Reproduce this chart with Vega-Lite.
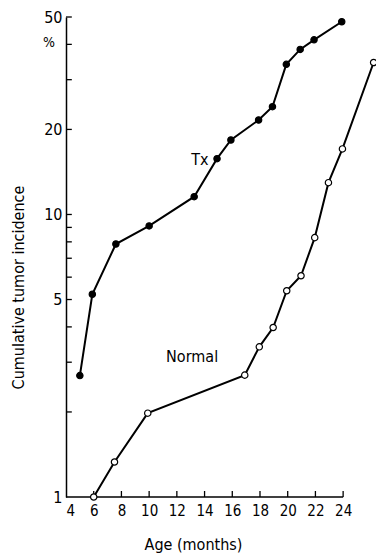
{
  "$schema": "https://vega.github.io/schema/vega-lite/v6.json",
  "width": 309,
  "height": 480,
  "autosize": {"type": "none"},
  "padding": {"left": 66, "top": 17, "right": 1, "bottom": 57},
  "background": "white",
  "config": {
    "view": {"stroke": null},
    "font": "DejaVu Sans Condensed",
    "axis": {"grid": false, "ticks": false, "labelOverlap": false, "domainColor": "black", "labelColor": "black", "titleColor": "black", "labelFont": "DejaVu Sans Condensed", "titleFont": "DejaVu Sans Condensed", "titleFontWeight": "normal", "domainWidth": 1.5}
  },
  "datasets": {
    "series": [
      {"age": 5.0, "pct": 2.69, "group": "Tx"},
      {"age": 5.9, "pct": 5.22, "group": "Tx"},
      {"age": 7.6, "pct": 7.86, "group": "Tx"},
      {"age": 10.0, "pct": 9.11, "group": "Tx"},
      {"age": 13.25, "pct": 11.56, "group": "Tx"},
      {"age": 14.9, "pct": 15.76, "group": "Tx"},
      {"age": 15.9, "pct": 18.35, "group": "Tx"},
      {"age": 17.9, "pct": 21.6, "group": "Tx"},
      {"age": 18.9, "pct": 24.07, "group": "Tx"},
      {"age": 19.9, "pct": 34.0, "group": "Tx"},
      {"age": 20.9, "pct": 38.4, "group": "Tx"},
      {"age": 21.9, "pct": 41.5, "group": "Tx"},
      {"age": 23.9, "pct": 48.1, "group": "Tx"},
      {"age": 6.0, "pct": 1.0, "group": "Normal"},
      {"age": 7.5, "pct": 1.33, "group": "Normal"},
      {"age": 9.9, "pct": 1.98, "group": "Normal"},
      {"age": 16.9, "pct": 2.7, "group": "Normal"},
      {"age": 17.95, "pct": 3.4, "group": "Normal"},
      {"age": 18.95, "pct": 3.98, "group": "Normal"},
      {"age": 19.93, "pct": 5.37, "group": "Normal"},
      {"age": 20.96, "pct": 6.07, "group": "Normal"},
      {"age": 21.95, "pct": 8.28, "group": "Normal"},
      {"age": 22.94, "pct": 12.96, "group": "Normal"},
      {"age": 23.95, "pct": 17.06, "group": "Normal"},
      {"age": 26.2, "pct": 34.5, "group": "Normal"}
    ],
    "labels": [
      {"age": 13.66, "pct": 15.6, "text": "Tx"},
      {"age": 13.1, "pct": 3.13, "text": "Normal"}
    ],
    "yticks": [
      {"age": 4, "pct": 2}, {"age": 4, "pct": 3}, {"age": 4, "pct": 4}, {"age": 4, "pct": 5}, {"age": 4, "pct": 6}, {"age": 4, "pct": 7}, {"age": 4, "pct": 8}, {"age": 4, "pct": 9}, {"age": 4, "pct": 10}, {"age": 4, "pct": 20}, {"age": 4, "pct": 30}, {"age": 4, "pct": 40}, {"age": 4, "pct": 50}
    ],
    "xticks": [
      {"age": 6, "pct": 1}, {"age": 8, "pct": 1}, {"age": 10, "pct": 1}, {"age": 12, "pct": 1}, {"age": 14, "pct": 1}, {"age": 16, "pct": 1}, {"age": 18, "pct": 1}, {"age": 20, "pct": 1}, {"age": 22, "pct": 1}, {"age": 24, "pct": 1}
    ]
  },
  "encoding": {
    "x": {"field": "age", "type": "quantitative", "scale": {"domain": [4, 26.3], "nice": false, "zero": false},
      "axis": {"values": [4, 6, 8, 10, 12, 14, 16, 18, 20, 22, 24], "labelOverlap": false, "domain": false, "labelPadding": 6, "labelFontSize": 15, "title": "Age (months)", "titleFontSize": 16, "titleX": 127, "titleY": 52, "titleBaseline": "alphabetic", "titleAnchor": null}},
    "y": {"field": "pct", "type": "quantitative", "scale": {"type": "log", "domain": [1, 50], "nice": false},
      "axis": {"values": [1, 5, 10, 20, 50], "labelPadding": 4, "labelFontSize": 16, "title": "Cumulative tumor incidence", "titleFontSize": 16, "titleX": -43, "titleY": 270, "titleAngle": -90, "titleBaseline": "alphabetic", "titleAnchor": null}}
  },
  "layer": [
    {
      "data": {"name": "series"},
      "mark": {"type": "line", "color": "black", "strokeWidth": 2, "clip": true},
      "encoding": {"detail": {"field": "group"}}
    },
    {
      "data": {"values": [{"age": 4, "end": 24, "pct": 1}]},
      "mark": {"type": "rule", "color": "black", "strokeWidth": 1.5},
      "encoding": {"x2": {"field": "end"}}
    },
    {
      "data": {"name": "yticks"},
      "mark": {"type": "rule", "color": "black", "strokeWidth": 1.3},
      "encoding": {"x2": {"datum": 4.42}}
    },
    {
      "data": {"name": "xticks"},
      "mark": {"type": "rule", "color": "black", "strokeWidth": 1.3},
      "encoding": {"y2": {"datum": 1.05}}
    },
    {
      "data": {"name": "series"},
      "mark": {"type": "point", "size": 40, "strokeWidth": 1.2, "opacity": 1, "clip": false},
      "encoding": {
        "fill": {"field": "group", "type": "nominal", "scale": {"domain": ["Tx", "Normal"], "range": ["black", "white"]}, "legend": null},
        "stroke": {"value": "black"}
      }
    },
    {
      "data": {"name": "labels"},
      "mark": {"type": "text", "fontSize": 16, "color": "black", "align": "center", "baseline": "middle"},
      "encoding": {"text": {"field": "text"}}
    },
    {
      "data": {"values": [{"age": 4, "pct": 40.5, "text": "%"}]},
      "mark": {"type": "text", "fontSize": 14, "color": "black", "align": "center", "baseline": "middle", "dx": -17},
      "encoding": {"text": {"field": "text"}}
    }
  ]
}
